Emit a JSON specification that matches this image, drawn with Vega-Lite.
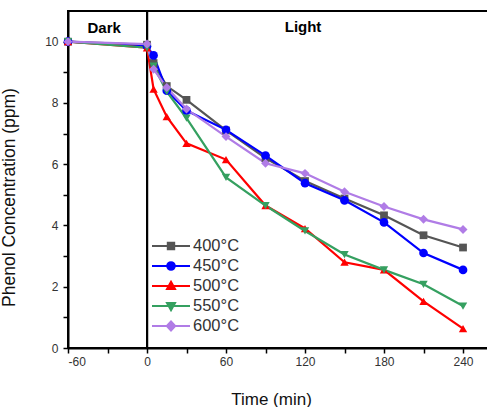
{
  "$schema": "https://vega.github.io/schema/vega-lite/v6.json",
  "width": 424,
  "height": 337,
  "autosize": "none",
  "padding": {"left": 68, "top": 11, "right": 0, "bottom": 59},
  "background": "white",
  "config": {
    "font": "Liberation Sans",
    "view": {"stroke": "black", "strokeWidth": 2},
    "axis": {
      "grid": false,
      "domainColor": "black",
      "domainWidth": 2,
      "tickColor": "black",
      "tickWidth": 1.5,
      "tickSize": 5,
      "labelFont": "Liberation Sans",
      "labelFontSize": 12,
      "labelColor": "#333333",
      "titleFont": "Liberation Sans",
      "titleFontSize": 16,
      "titleFontWeight": "normal",
      "titleColor": "#111111"
    }
  },
  "data": {
    "values": [
      {"t": -60, "T": "400°C", "c": 10}, {"t": 0, "T": "400°C", "c": 9.9}, {"t": 5, "T": "400°C", "c": 9.3}, {"t": 15, "T": "400°C", "c": 8.55}, {"t": 30, "T": "400°C", "c": 8.1}, {"t": 60, "T": "400°C", "c": 7.1}, {"t": 90, "T": "400°C", "c": 6.2}, {"t": 120, "T": "400°C", "c": 5.45}, {"t": 150, "T": "400°C", "c": 4.88}, {"t": 180, "T": "400°C", "c": 4.33}, {"t": 210, "T": "400°C", "c": 3.68}, {"t": 240, "T": "400°C", "c": 3.28},
      {"t": -60, "T": "450°C", "c": 10}, {"t": 0, "T": "450°C", "c": 9.85}, {"t": 5, "T": "450°C", "c": 9.55}, {"t": 15, "T": "450°C", "c": 8.4}, {"t": 30, "T": "450°C", "c": 7.75}, {"t": 60, "T": "450°C", "c": 7.12}, {"t": 90, "T": "450°C", "c": 6.28}, {"t": 120, "T": "450°C", "c": 5.38}, {"t": 150, "T": "450°C", "c": 4.82}, {"t": 180, "T": "450°C", "c": 4.1}, {"t": 210, "T": "450°C", "c": 3.1}, {"t": 240, "T": "450°C", "c": 2.55},
      {"t": -60, "T": "500°C", "c": 10}, {"t": 0, "T": "500°C", "c": 9.8}, {"t": 5, "T": "500°C", "c": 8.45}, {"t": 15, "T": "500°C", "c": 7.55}, {"t": 30, "T": "500°C", "c": 6.68}, {"t": 60, "T": "500°C", "c": 6.15}, {"t": 90, "T": "500°C", "c": 4.65}, {"t": 120, "T": "500°C", "c": 3.9}, {"t": 150, "T": "500°C", "c": 2.8}, {"t": 180, "T": "500°C", "c": 2.55}, {"t": 210, "T": "500°C", "c": 1.52}, {"t": 240, "T": "500°C", "c": 0.63},
      {"t": -60, "T": "550°C", "c": 10}, {"t": 0, "T": "550°C", "c": 9.8}, {"t": 5, "T": "550°C", "c": 9.2}, {"t": 15, "T": "550°C", "c": 8.37}, {"t": 30, "T": "550°C", "c": 7.5}, {"t": 60, "T": "550°C", "c": 5.57}, {"t": 90, "T": "550°C", "c": 4.65}, {"t": 120, "T": "550°C", "c": 3.82}, {"t": 150, "T": "550°C", "c": 3.05}, {"t": 180, "T": "550°C", "c": 2.55}, {"t": 210, "T": "550°C", "c": 2.08}, {"t": 240, "T": "550°C", "c": 1.37},
      {"t": -60, "T": "600°C", "c": 10}, {"t": 0, "T": "600°C", "c": 9.92}, {"t": 5, "T": "600°C", "c": 9.1}, {"t": 15, "T": "600°C", "c": 8.5}, {"t": 30, "T": "600°C", "c": 7.8}, {"t": 60, "T": "600°C", "c": 6.9}, {"t": 90, "T": "600°C", "c": 6.03}, {"t": 120, "T": "600°C", "c": 5.7}, {"t": 150, "T": "600°C", "c": 5.1}, {"t": 180, "T": "600°C", "c": 4.62}, {"t": 210, "T": "600°C", "c": 4.2}, {"t": 240, "T": "600°C", "c": 3.87}
    ]
  },
  "encoding": {
    "x": {
      "field": "t", "type": "quantitative",
      "scale": {"domain": [-60, 262], "nice": false, "zero": false},
      "axis": {
        "title": "Time (min)", "titleY": 43, "titleX": 203, "titleFontSize": 17,
        "values": [-60, -30, 0, 30, 60, 90, 120, 150, 180, 210, 240],
        "labelExpr": "datum.value % 60 == 0 ? '' + datum.value : ''",
        "labelPadding": 3
      }
    },
    "y": {
      "field": "c", "type": "quantitative",
      "scale": {"domain": [0, 11], "nice": false},
      "axis": {
        "title": "Phenol Concentration (ppm)", "titleX": -50, "titleY": 186, "titleFontSize": 17.5,
        "values": [0, 1, 2, 3, 4, 5, 6, 7, 8, 9, 10],
        "labelExpr": "datum.value % 2 == 0 ? datum.label : ''",
        "labelPadding": 5
      }
    }
  },
  "layer": [
    {
      "mark": {"type": "point", "filled": true, "opacity": 1, "fillOpacity": 0, "strokeOpacity": 0, "size": 400, "strokeWidth": 2},
      "encoding": {
        "color": {
          "field": "T", "type": "nominal",
          "scale": {"domain": ["400°C", "450°C", "500°C", "550°C", "600°C"], "range": ["#555555", "#0000ff", "#ff0000", "#35a060", "#b07ce6"]},
          "legend": {
            "title": null, "orient": "none", "legendX": 92, "legendY": 224,
            "symbolSize": 400, "symbolStrokeWidth": 2,
            "labelFontSize": 16.5, "labelColor": "#333333", "labelOffset": 11,
            "rowPadding": -1.5, "padding": 0,
            "encode": {"symbols": {"update": {"stroke": {"scale": "color", "field": "value"}, "fill": {"scale": "color", "field": "value"}, "opacity": {"value": 1}, "fillOpacity": {"value": 1}, "strokeOpacity": {"value": 1}}}}
          }
        },
        "shape": {
          "field": "T", "type": "nominal",
          "scale": {
            "domain": ["400°C", "450°C", "500°C", "550°C", "600°C"],
            "range": [
              "M-1.9,0H1.9M-0.32,-0.32H0.32V0.32H-0.32Z",
              "M-1.9,0H1.9M0.38,0A0.38,0.38,0,1,1,-0.38,0A0.38,0.38,0,1,1,0.38,0Z",
              "M-1.9,0H1.9M0,-0.42L0.4,0.3H-0.4Z",
              "M-1.9,0H1.9M0,0.42L0.4,-0.3H-0.4Z",
              "M-1.9,0H1.9M0,-0.45L0.42,0L0,0.45L-0.42,0Z"
            ]
          },
          "legend": {
            "title": null, "orient": "none", "legendX": 92, "legendY": 224,
            "symbolSize": 400, "symbolStrokeWidth": 2,
            "labelFontSize": 16.5, "labelColor": "#333333", "labelOffset": 11,
            "rowPadding": -1.5, "padding": 0,
            "encode": {"symbols": {"update": {"stroke": {"scale": "color", "field": "value"}, "fill": {"scale": "color", "field": "value"}, "opacity": {"value": 1}, "fillOpacity": {"value": 1}, "strokeOpacity": {"value": 1}}}}
          }
        }
      }
    },
    {
      "mark": {"type": "rule", "color": "black", "strokeWidth": 2},
      "encoding": {"x": {"datum": 0}, "y": null}
    },
    {
      "mark": {"type": "line", "strokeWidth": 2.2, "clip": true},
      "encoding": {"color": {"field": "T", "type": "nominal"}}
    },
    {
      "transform": [{"filter": "datum.T == '400°C'"}],
      "mark": {"type": "point", "shape": "square", "filled": true, "opacity": 1, "size": 60},
      "encoding": {"color": {"field": "T", "type": "nominal"}}
    },
    {
      "transform": [{"filter": "datum.T == '450°C'"}],
      "mark": {"type": "point", "shape": "circle", "filled": true, "opacity": 1, "size": 75},
      "encoding": {"color": {"field": "T", "type": "nominal"}}
    },
    {
      "transform": [{"filter": "datum.T == '500°C'"}],
      "mark": {"type": "point", "shape": "triangle-up", "filled": true, "opacity": 1, "size": 70},
      "encoding": {"color": {"field": "T", "type": "nominal"}}
    },
    {
      "transform": [{"filter": "datum.T == '550°C'"}],
      "mark": {"type": "point", "shape": "triangle-down", "filled": true, "opacity": 1, "size": 70},
      "encoding": {"color": {"field": "T", "type": "nominal"}}
    },
    {
      "transform": [{"filter": "datum.T == '600°C'"}],
      "mark": {"type": "point", "shape": "diamond", "filled": true, "opacity": 1, "size": 80},
      "encoding": {"color": {"field": "T", "type": "nominal"}}
    },
    {
      "data": {"values": [{"t": -32.5, "c": 10.45, "label": "Dark"}, {"t": 118.5, "c": 10.48, "label": "Light"}]},
      "mark": {"type": "text", "fontWeight": "bold", "fontSize": 15, "font": "Liberation Sans", "color": "black"},
      "encoding": {"text": {"field": "label"}}
    }
  ]
}
